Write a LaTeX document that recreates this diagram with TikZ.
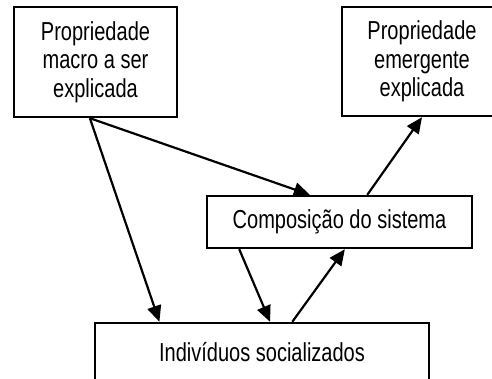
\documentclass[tikz,border=0pt]{standalone}
\usepackage{fontspec}
\setmainfont{Liberation Sans}[FakeStretch=0.77]
\usetikzlibrary{arrows.meta,calc}
\tikzset{
  box/.style={draw, line width=1.2pt, align=center, inner sep=2pt, fill=white,
    font=\fontsize{13}{14.2}\selectfont},
  edge/.style={-{Triangle[length=8pt, width=7pt]}, line width=1.1pt}
}

\begin{document}
\begin{tikzpicture}[x=0.5pt, y=-0.5pt]
\useasboundingbox (0,0) rectangle (492,379);
\node[box, minimum width=81.5pt, minimum height=55pt] (macro) at (95.5,62) {Propriedade\\macro a ser\\explicada};
\node[box, minimum width=80pt, minimum height=54.5pt] (emerg) at (422,61.5) {Propriedade\\emergente\\explicada};
\node[box, minimum width=132.5pt, minimum height=26pt] (comp) at (339.5,222) {Composição do sistema};
\node[box, minimum width=167pt, minimum height=29pt] (indiv) at (262,352) {Indivíduos socializados};

\draw[edge] ($(macro.south west)!0.466!(macro.south east)$) -- ($(indiv.north west)!0.195!(indiv.north east)$);
\draw[edge] ($(macro.south west)!0.466!(macro.south east)$) -- ($(comp.north west)!0.389!(comp.north east)$);
\draw[edge] ($(comp.south west)!0.125!(comp.south east)$) -- ($(indiv.north west)!0.524!(indiv.north east)$);
\draw[edge] ($(indiv.north west)!0.59!(indiv.north east)$) -- ($(comp.south west)!0.52!(comp.south east)$);
\draw[edge] ($(comp.north west)!0.604!(comp.north east)$) -- (emerg.south);
\end{tikzpicture}
\end{document}
